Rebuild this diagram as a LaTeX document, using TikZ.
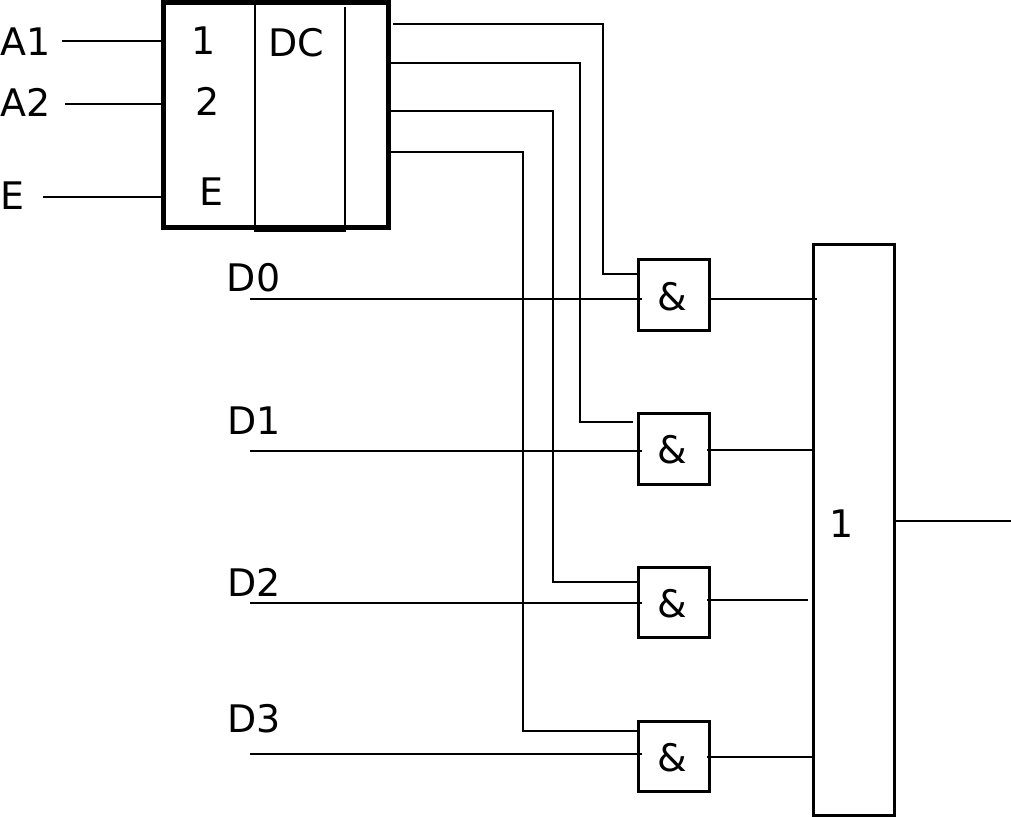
\documentclass[tikz,border=0pt]{standalone}
\usepackage{fontspec}
\setmainfont{DejaVu Sans}

\tikzset{
	lbl/.style={inner sep=0pt, font=\fontsize{21.6}{25}\selectfont},
	andbox/.style={draw=black, line width=0.06cm, minimum width=1.42cm, minimum height=1.42cm, inner sep=0pt},
	wire/.style={draw=black, line width=0.04cm}
}

\begin{document}
\begin{tikzpicture}[x=0.02cm, y=-0.02cm]
	\useasboundingbox (0,0) rectangle (1011,817);

	%decoder
	\draw[black, line width=0.1cm] (163.5,2.5) rectangle (388.5,227.5);
	\draw[wire] (255,5) -- (255,231) -- (345,231) -- (345,7);
	\node[lbl] (LblOne) at (204,41) {1};
	\node[lbl] (LblTwo) at (208,101.5) {2};
	\node[lbl] (LblEn) at (211,192) {E};
	\node[lbl] (LblDC) at (296,43) {DC};

	%decoder inputs
	\node[lbl, anchor=west] (InA1) at (0,42) {A1};
	\node[lbl, anchor=west] (InA2) at (0,102.5) {A2};
	\node[lbl, anchor=west] (InE) at (0,196) {E};
	\coordinate (PinA1) at (163,41);
	\coordinate (PinA2) at (163,104);
	\coordinate (PinE) at (163,197);
	\draw[wire] (62,41) -- (PinA1);
	\draw[wire] (65,104) -- (PinA2);
	\draw[wire] (43,197) -- (PinE);

	%and gates
	\node[andbox] (And0) at (673.5,295) {};
	\node[andbox] (And1) at (673.5,449) {};
	\node[andbox] (And2) at (673.5,602.5) {};
	\node[andbox] (And3) at (673.5,756.5) {};
	\node[lbl] (LblAnd0) at (672,296.5) {\&};
	\node[lbl] (LblAnd1) at (672,450) {\&};
	\node[lbl] (LblAnd2) at (672,603.5) {\&};
	\node[lbl] (LblAnd3) at (672,757.5) {\&};

	%or gate
	\draw[black, line width=0.06cm] (813,245) rectangle (894,815);
	\node[lbl] (LblOr) at (842,524) {1};

	%data inputs
	\node[lbl] (LblD0) at (253.5,278) {D0};
	\node[lbl] (LblD1) at (254,421) {D1};
	\node[lbl] (LblD2) at (254,582) {D2};
	\node[lbl] (LblD3) at (254,719) {D3};
	\draw[wire] (250,299) -- (642,299);
	\draw[wire] (250,451) -- (642,451);
	\draw[wire] (250,603) -- (642,603);
	\draw[wire] (250,754) -- (642,754);

	%decoder outputs
	\draw[wire] (393,24) -- (603,24) -- (603,274) -- (640,274);
	\draw[wire] (390,63) -- (580,63) -- (580,422) -- (633,422);
	\draw[wire] (390,111) -- (553,111) -- (553,582) -- (640,582);
	\draw[wire] (390,152) -- (523,152) -- (523,731) -- (638,731);

	%gate outputs
	\draw[wire] (711,299) -- (817,299);
	\draw[wire] (707,450) -- (815,450);
	\draw[wire] (707,600) -- (808,600);
	\draw[wire] (707,757) -- (815,757);
	\draw[wire] (896,521) -- (1011,521);
\end{tikzpicture}
\end{document}
